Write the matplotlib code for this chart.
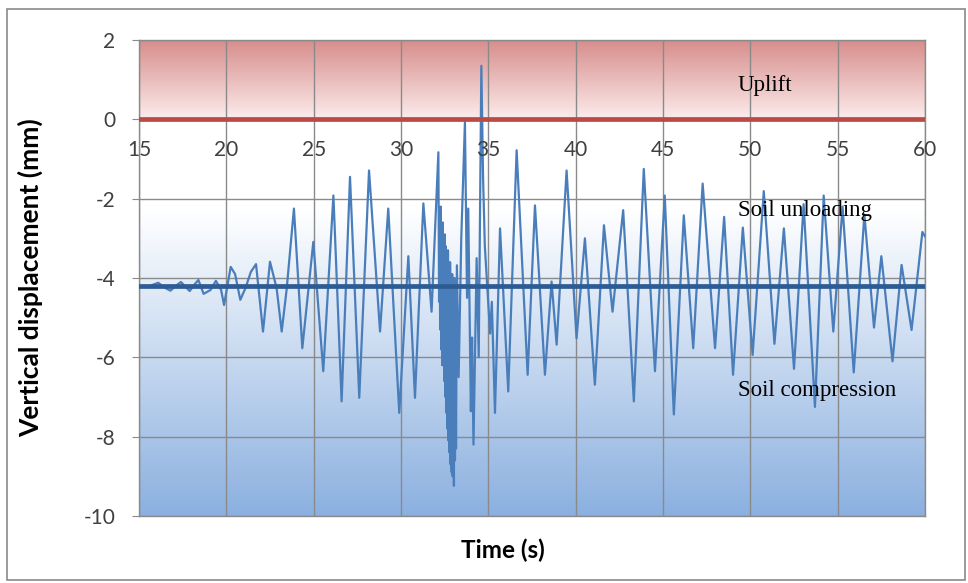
import numpy as np
import matplotlib.pyplot as plt
from matplotlib.patches import Rectangle

# peaks / troughs
time_s = [15.0, 15.5, 16.1, 16.5, 16.8, 17.1, 17.4, 17.9, 18.2, 18.4, 18.7, 19.1,
          19.4, 19.7, 19.87, 20.25, 20.5, 20.8, 21.1, 21.4, 21.7, 22.1, 22.5,
          22.88, 23.17, 23.45, 23.87, 24.35, 24.98, 25.55, 26.13, 26.6, 27.08,
          27.61, 28.17, 28.8, 29.27, 29.9, 30.42, 30.8, 31.28, 31.75, 32.14,
          32.18, 32.21, 32.24, 32.27, 32.3, 32.33, 32.36, 32.39, 32.42, 32.45,
          32.48, 32.51, 32.54, 32.57, 32.6, 32.63, 32.66, 32.69, 32.72, 32.75,
          32.78, 32.81, 32.84, 32.87, 32.9, 32.93, 32.96, 33.0, 33.03, 33.06,
          33.09, 33.12, 33.15, 33.2, 33.3,
          33.45, 33.66, 33.78, 33.85, 34.0, 34.07, 34.15, 34.33, 34.45, 34.6,
          34.7, 34.8, 35.1, 35.2, 35.38, 35.67, 36.14, 36.62, 37.25, 37.67,
          38.24, 38.62, 38.91, 39.48, 40.05, 40.53, 41.1, 41.62, 42.11, 42.72,
          43.33, 43.9, 44.54, 45.1, 45.62, 46.19, 46.73, 47.27, 47.98, 48.5,
          49.01, 49.57, 50.13, 50.77, 51.38, 51.92, 52.5, 53.05, 53.7, 54.2,
          54.75, 55.28, 55.92, 56.53, 57.08, 57.5, 58.14, 58.66, 59.23, 59.85,
          60.0]
disp_mm = [-4.2, -4.22, -4.12, -4.25, -4.32, -4.2, -4.1, -4.33, -4.15, -4.05,
           -4.4, -4.3, -4.07, -4.3, -4.68, -3.72, -3.9, -4.55, -4.25, -3.85,
           -3.65, -5.35, -3.59, -4.26, -5.35, -4.3, -2.25, -5.77, -3.09, -6.35,
           -1.92, -7.11, -1.45, -7.02, -1.29, -5.35, -2.25, -7.4, -3.45, -7.02,
           -2.12, -4.85, -0.83,
           -4.6, -2.5, -5.3, -2.2, -5.8, -2.7, -6.2, -2.6, -5.9, -3.0,
           -6.6, -2.9, -7.0, -3.2, -7.4, -3.4, -7.8, -3.3, -8.1, -3.8,
           -8.4, -3.6, -8.7, -4.1, -8.9, -3.9, -9.0, -4.3, -9.24, -4.0,
           -8.6, -4.4, -8.3, -3.68, -6.5,
           -3.0, -0.07, -4.5, -2.25, -7.36, -5.5, -8.2, -3.5, -6.0,
           1.35, -1.5, -3.2, -5.4, -4.6, -7.4, -2.75, -6.86, -0.78, -6.44,
           -2.17, -6.44, -4.09, -5.68, -1.29, -5.52, -3.0, -6.69, -2.67, -4.85,
           -2.29, -7.11, -1.25, -6.35, -1.92, -7.44, -2.42, -5.77, -1.62, -5.77,
           -2.46, -6.44, -2.73, -5.94, -1.81, -5.66, -2.75, -6.29, -2.14, -7.25,
           -1.92, -5.35, -2.2, -6.38, -2.4, -5.25, -3.45, -6.1, -3.67, -5.31,
           -2.84, -2.95]

mean_level = -4.2
x_ticks = [15, 20, 25, 30, 35, 40, 45, 50, 55, 60]
y_ticks = [-10, -8, -6, -4, -2, 0, 2]
zones = [("Uplift", 0.71), ("Soil unloading", -2.43), ("Soil compression", -6.98)]

fig = plt.figure(figsize=(9.68, 5.83), dpi=100)
ax = fig.add_axes([139/968, 1-516/583, (925-139)/968, (516-40)/583])
ax.set_xlim(15, 60)
ax.set_ylim(-10, 2)

# background gradients
n = 256
g = np.linspace(0, 1, n)[:, None]
top_c = np.array([214, 140, 138]) / 255
low_c = np.array([252, 236, 236]) / 255
red_grad = (top_c * (1 - g) + low_c * g)[:, None, :].repeat(2, axis=1)
ax.imshow(red_grad, extent=[15, 60, 0, 2], aspect='auto', zorder=0)

v = np.linspace(0, -10, n)
f = np.clip((-v - 2.3) / 7.7, 0, 1)[:, None]
blue_c = np.array([139, 176, 224]) / 255
blue_grad = (np.ones(3) * (1 - f) + blue_c * f)[:, None, :].repeat(2, axis=1)
ax.imshow(blue_grad, extent=[15, 60, -10, 0], aspect='auto', zorder=0)

ax.set_xticks(x_ticks)
ax.set_yticks(y_ticks)
ax.set_yticklabels([str(t) for t in y_ticks])
ax.grid(True, color='#8a8a8a', linewidth=1.0)
for gl in ax.get_xgridlines() + ax.get_ygridlines():
    gl.set_zorder(1)
ax.tick_params(axis='x', bottom=False, labelbottom=False)
ax.tick_params(axis='y', length=5, color='#8a8a8a', pad=12,
               labelsize=15, labelcolor='#404040')
for lab in ax.get_yticklabels():
    lab.set_fontfamily('Lato')
for s in ax.spines.values():
    s.set_color('#8a8a8a')
    s.set_linewidth(1.0)

# x tick labels sit just under the zero line
for t in x_ticks:
    ax.annotate(str(t), xy=(t, 0), xytext=(0, -15), textcoords='offset points',
                ha='center', va='top', fontsize=15, color='#404040',
                family='Lato', zorder=5)

ax.plot(time_s, disp_mm, color='#4a7ebb', linewidth=1.6, zorder=3)
ax.axhline(mean_level, color='#2d5b93', linewidth=3.4, zorder=4)
ax.axhline(0, color='#bb4a45', linewidth=3.4, zorder=4)

for txt, yv in zones:
    ax.text(49.29, yv, txt, fontsize=16.5, family='Liberation Serif',
            color='black', zorder=5)

fig.text(30/968, 1-278/583, 'Vertical displacement (mm)', rotation=90,
         ha='center', va='center', fontsize=19, fontweight='bold', family='Lato')
fig.text(503/968, 1-550/583, 'Time (s)', ha='center', va='center',
         fontsize=17.5, fontweight='bold', family='Lato')

fig.patches.append(Rectangle((7/968, 3/583), 958/968, 571/583,
                             transform=fig.transFigure, fill=False,
                             edgecolor='#8a8a8a', linewidth=1.2))

fig.savefig('out.png', dpi=100)
